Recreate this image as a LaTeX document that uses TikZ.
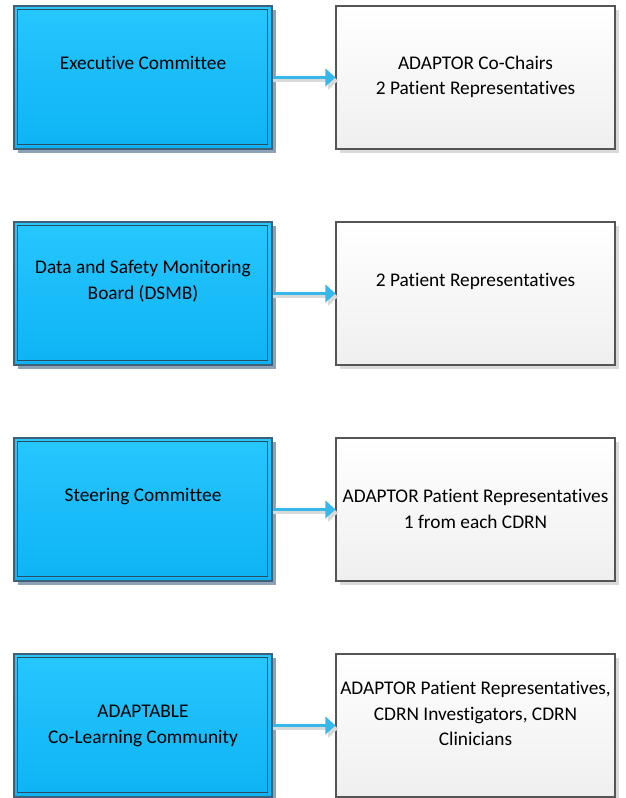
\documentclass[tikz,border=0pt]{standalone}
\usepackage{fontspec}
\setmainfont[Ligatures=NoCommon]{Carlito}
\usetikzlibrary{shadows,arrows.meta,calc}
\definecolor{bluetop}{HTML}{27C7FF}
\definecolor{bluebot}{HTML}{0DB3F3}
\definecolor{blueborder}{HTML}{3F6079}
\definecolor{blueinner}{HTML}{2E4B60}
\definecolor{blueshadow}{HTML}{8EA2B6}
\definecolor{greyborder}{HTML}{555555}
\definecolor{greybot}{HTML}{EFEFEF}
\definecolor{greyshadow}{HTML}{DADADA}
\definecolor{arrowblue}{HTML}{35B8EA}
\definecolor{arrowshadow}{HTML}{D9D9D9}
\begin{document}
\begin{tikzpicture}[x=0.75pt,y=-0.75pt,
  leftbox/.style={draw=blueborder, line width=0.9pt, top color=bluetop, bottom color=bluebot,
    minimum width=193.5pt, minimum height=107.25pt, inner sep=0pt,
    general shadow={fill=blueshadow, shadow xshift=3pt, shadow yshift=-3pt}},
  rightbox/.style={draw=greyborder, line width=0.8pt, top color=white, bottom color=greybot,
    minimum width=209.25pt, minimum height=107.25pt, inner sep=0pt,
    general shadow={fill=greyshadow, shadow xshift=3pt, shadow yshift=-3pt}},
  innerline/.style={draw=blueinner, line width=0.8pt},
  boxtext/.style={align=center, font=\fontsize{14.5}{19}\selectfont, inner sep=0pt, text=black},
  link/.style={draw=arrowblue, line width=2.3pt, -{Triangle[length=7.5pt, width=13pt]}},
  linkshadow/.style={draw=arrowshadow, line width=2.3pt, -{Triangle[length=7.5pt, width=13pt]}}
]
\useasboundingbox (0,0) rectangle (625,798);

\foreach \i/\yc in {1/77.5, 2/293.5, 3/509.5, 4/725.5} {
  \node[leftbox] (L\i) at (143,\yc) {};
  \draw[innerline] ($(L\i.north west)+(3pt,-3pt)$) rectangle ($(L\i.south east)+(-3.5pt,3.5pt)$);
  \node[rightbox] (R\i) at (475.5,\yc) {};
  \draw[linkshadow] ($(L\i.east)+(0,-2.5pt)$) -- ($(R\i.west)+(2pt,-2.5pt)$);
  \draw[link] (L\i.east) -- (R\i.west);
}

\node[boxtext] (lt1) at (143,63) {Executive Committee};
\node[boxtext] (lt2) at (143,281) {Data and Safety Monitoring\\Board (DSMB)};
\node[boxtext] (lt3) at (143,497) {Steering Committee};
\node[boxtext] (lt4) at (143,726) {ADAPTABLE\\Co-Learning Community};

\node[boxtext] (rt1) at (475.5,77) {ADAPTOR Co-Chairs\\2 Patient Representatives};
\node[boxtext] (rt2) at (475.5,281) {2 Patient Representatives};
\node[boxtext] (rt3) at (475.5,509) {ADAPTOR Patient Representatives\\1 from each CDRN};
\node[boxtext] (rt4) at (475.5,713.5) {ADAPTOR Patient Representatives,\\CDRN Investigators, CDRN\\Clinicians};
\end{tikzpicture}
\end{document}
